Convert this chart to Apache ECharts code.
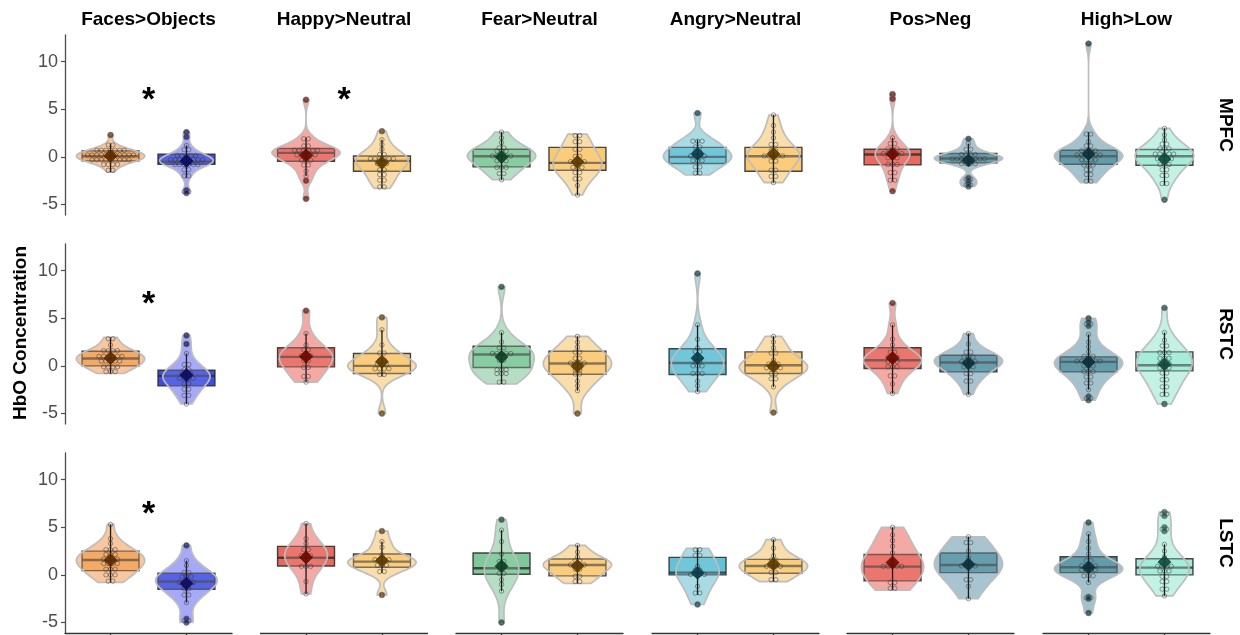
<!DOCTYPE html>
<html>
<head>
<meta charset="utf-8">
<script src="https://cdn.jsdelivr.net/npm/echarts@6/dist/echarts.min.js"></script>
<style>
  html, body { margin: 0; background: #fff; }
  #main { width: 1240px; height: 635px; }
</style>
</head>
<body>
<div id="main"></div>
<script>
  const contrasts = ['Faces>Objects', 'Happy>Neutral', 'Fear>Neutral', 'Angry>Neutral', 'Pos>Neg', 'High>Low'];
  const regions = ['MPFC', 'RSTC', 'LSTC'];
  // 每个对比两组: Faces, Objects, Happy, Neutral, Fear, Neutral, Angry, Neutral, Pos, Neg, High, Low
  const mpfcPoints = [
    [2.3, 1.4, 1.1, 0.9, 0.8, 0.7, 0.7, 0.6, 0.6, 0.5, 0.4, 0.4, 0.3, 0.3, 0.2, 0.2, 0.1, 0.1, 0.1, 0.0, 0.0, -0.1, -0.1, -0.2, -0.2, -0.3, -0.3, -0.4, -0.4, -0.5, -0.6, -0.7, -0.8, -1.0, -1.2, -1.6],
    [2.6, 2.1, 1.2, 0.9, 0.6, 0.3, 0.2, 0.2, 0.1, 0.0, -0.1, -0.2, -0.3, -0.3, -0.4, -0.5, -0.5, -0.5, -0.6, -0.6, -0.7, -0.8, -0.9, -1.0, -1.2, -1.5, -1.8, -2.2, -3.5, -3.8],
    [6.0, 2.0, 1.8, 1.3, 1.0, 0.9, 0.8, 0.7, 0.6, 0.5, 0.5, 0.4, 0.4, 0.3, 0.2, 0.0, -0.2, -0.4, -0.5, -0.7, -1.0, -1.5, -2.0, -2.5, -4.4],
    [2.7, 1.8, 1.3, 0.8, 0.3, 0.2, 0.0, -0.1, -0.2, -0.3, -0.4, -0.4, -0.5, -0.6, -0.9, -1.2, -1.5, -1.7, -2.0, -2.3, -2.6, -3.0, -3.3],
    [2.6, 2.0, 1.5, 1.0, 0.9, 0.8, 0.6, 0.4, 0.3, 0.2, 0.1, 0.0, -0.1, -0.2, -0.3, -0.6, -0.9, -1.1, -1.3, -1.6, -1.9, -2.4],
    [2.4, 2.1, 1.8, 1.4, 1.0, 0.6, 0.2, -0.1, -0.3, -0.5, -0.6, -0.7, -0.9, -1.1, -1.3, -1.5, -1.8, -2.1, -2.5, -3.0, -4.0],
    [4.6, 1.8, 1.8, 1.5, 1.2, 0.9, 0.6, 0.4, 0.3, 0.1, 0.0, -0.1, -0.2, -0.4, -0.6, -0.9, -1.2, -1.5, -1.9],
    [4.4, 3.3, 2.6, 2.0, 1.5, 1.1, 0.8, 0.5, 0.3, 0.2, 0.1, 0.0, -0.1, -0.3, -0.6, -1.2, -1.6, -1.9, -2.2, -2.7],
    [6.6, 6.1, 2.0, 1.6, 1.2, 1.0, 0.8, 0.7, 0.5, 0.4, 0.3, 0.3, 0.2, 0.1, 0.0, -0.3, -0.6, -0.8, -1.0, -1.5, -1.8, -2.3, -2.6, -3.6],
    [1.9, 1.4, 1.0, 0.6, 0.4, 0.3, 0.2, 0.1, 0.0, -0.1, -0.1, -0.2, -0.2, -0.2, -0.3, -0.4, -0.5, -0.6, -0.7, -0.9, -2.2, -2.5, -2.8, -3.1],
    [11.9, 2.6, 2.2, 1.6, 1.3, 1.0, 0.8, 0.7, 0.6, 0.5, 0.4, 0.3, 0.2, 0.1, 0.0, 0.0, -0.1, -0.2, -0.3, -0.5, -0.7, -0.9, -1.0, -1.2, -1.5, -1.7, -2.0, -2.4, -2.7],
    [3.0, 2.3, 1.8, 1.5, 1.2, 1.0, 0.8, 0.7, 0.5, 0.4, 0.3, 0.2, 0.1, 0.0, -0.1, -0.2, -0.4, -0.6, -0.8, -1.0, -1.2, -1.5, -1.8, -2.1, -2.6, -3.0, -4.5]
  ];
  const rstcPoints = [
    [3.0, 2.7, 2.2, 1.8, 1.5, 1.5, 1.4, 1.2, 1.1, 1.0, 0.9, 0.9, 0.8, 0.7, 0.6, 0.5, 0.4, 0.3, 0.1, 0.0, -0.1, -0.3, -0.4, -0.6, -0.8],
    [3.2, 2.3, 1.3, 0.3, 0.0, -0.3, -0.5, -0.7, -0.9, -1.0, -1.1, -1.2, -1.3, -1.5, -1.7, -2.0, -2.3, -2.6, -2.9, -3.3, -4.0],
    [5.8, 3.4, 2.2, 1.9, 1.5, 1.2, 1.0, 0.9, 0.7, 0.4, 0.0, -0.3, -1.0, -1.2, -1.7],
    [5.1, 3.8, 2.2, 1.5, 1.2, 0.7, 0.5, 0.3, 0.1, 0.0, -0.1, -0.2, -0.4, -0.5, -0.7, -1.1, -5.0],
    [8.3, 3.5, 2.5, 2.1, 1.7, 1.5, 1.4, 1.3, 1.2, 1.1, 0.8, 0.4, -0.3, -0.4, -0.5, -0.6, -0.7, -1.0, -1.5, -1.9],
    [3.1, 2.5, 2.0, 1.6, 1.3, 0.9, 0.7, 0.5, 0.3, 0.2, 0.1, -0.4, -0.5, -0.7, -1.0, -1.6, -2.1, -2.6, -5.0],
    [9.7, 4.3, 2.8, 1.9, 1.7, 1.3, 1.0, 0.8, 0.6, 0.3, 0.2, 0.0, -0.2, -0.6, -0.9, -1.0, -1.6, -2.1, -2.7],
    [3.1, 2.5, 1.9, 1.5, 1.2, 0.6, 0.3, 0.2, 0.1, 0.0, -0.1, -0.3, -0.4, -0.7, -0.9, -1.2, -1.5, -2.2, -4.9],
    [6.6, 4.3, 2.8, 2.2, 1.6, 1.3, 1.0, 0.9, 0.8, 0.6, 0.5, 0.3, 0.1, -0.1, -0.3, -0.9, -1.2, -1.9, -2.9],
    [3.4, 2.3, 1.6, 1.3, 1.1, 1.0, 0.8, 0.6, 0.5, 0.4, 0.3, 0.1, 0.0, -0.3, -0.6, -1.0, -1.4, -1.8, -3.0],
    [5.0, 4.6, 4.2, 3.3, 2.5, 2.0, 1.5, 1.2, 0.9, 0.8, 0.7, 0.6, 0.5, 0.4, 0.4, 0.3, 0.2, 0.0, -0.2, -0.4, -0.6, -0.8, -1.0, -1.3, -1.6, -2.0, -2.5, -3.2, -3.6],
    [6.1, 3.5, 2.7, 2.3, 1.9, 1.6, 1.4, 1.2, 1.0, 0.8, 0.6, 0.4, 0.3, 0.1, 0.0, -0.2, -0.4, -0.6, -0.9, -1.3, -1.6, -2.0, -2.4, -2.8, -3.2, -4.0]
  ];
  const lstcPoints = [
    [5.3, 3.8, 3.3, 2.8, 2.5, 2.5, 2.3, 2.1, 2.0, 1.8, 1.7, 1.6, 1.5, 1.4, 1.3, 1.2, 1.0, 0.8, 0.5, 0.4, 0.2, 0.0, -0.2, -0.5, -0.8],
    [3.1, 1.5, 1.0, 0.4, 0.1, 0.0, -0.2, -0.4, -0.6, -0.7, -0.8, -1.0, -1.3, -1.6, -1.9, -2.3, -2.9, -4.6, -5.0],
    [5.4, 3.8, 3.3, 2.8, 2.5, 2.2, 2.0, 1.8, 1.0, 0.9, 0.8, -0.7, -2.0],
    [4.6, 3.5, 2.9, 2.1, 1.8, 1.6, 1.5, 1.4, 1.2, 1.0, 0.8, 0.5, 0.2, -2.1],
    [5.8, 4.7, 3.5, 2.2, 1.6, 1.2, 0.9, 0.7, 0.3, 0.0, -0.5, -1.0, -1.7, -5.0],
    [3.1, 2.4, 1.9, 1.6, 1.4, 1.2, 1.1, 1.0, 0.9, 0.8, 0.4, 0.0, -0.3, -0.5, -0.9],
    [2.8, 2.5, 2.1, 2.0, 0.9, 0.6, 0.4, 0.2, 0.1, 0.0, -0.1, -1.2, -1.7, -2.1, -3.1],
    [3.7, 2.8, 2.0, 1.7, 1.4, 1.1, 1.0, 0.9, 0.7, 0.4, 0.1, -0.3, -0.7],
    [5.0, 4.2, 3.6, 3.0, 2.3, 1.3, 1.1, 1.0, 0.9, 0.8, 0.7, -0.7, -0.9, -1.2, -1.6],
    [4.0, 3.6, 3.2, 2.5, 1.8, 1.3, 1.1, 1.0, 0.9, 0.8, -0.3, -0.7, -1.2, -2.5],
    [5.5, 4.3, 3.5, 2.8, 2.2, 1.7, 1.3, 1.1, 1.0, 0.9, 0.8, 0.7, 0.5, 0.4, 0.3, 0.1, 0.0, -0.3, -0.8, -2.3, -2.5, -4.0],
    [6.6, 6.2, 5.0, 4.6, 3.2, 2.5, 1.9, 1.6, 1.3, 1.1, 1.0, 0.9, 0.7, 0.6, 0.4, 0.2, 0.0, -0.3, -0.5, -0.9, -1.3, -1.7, -2.2]
  ];
  // 箱线图 [下四分位, 中位数, 上四分位]
  const mpfcBox = [[-0.42, 0.07, 0.63], [-0.77, -0.5, 0.28], [-0.45, 0.42, 0.88], [-1.5, -0.42, 0.1], [-1.05, 0.07, 0.8], [-1.4, -0.63, 1.0],
    [-0.7, 0.0, 1.0], [-1.5, 0.07, 1.0], [-0.84, 0.25, 0.8], [-0.63, -0.17, 0.35], [-0.77, 0.07, 0.7], [-0.87, 0.07, 0.78]];
  const rstcBox = [[0.0, 0.77, 1.54], [-2.1, -1.05, -0.45], [-0.1, 0.95, 1.9], [-0.8, 0.0, 1.3], [-0.17, 1.2, 2.07], [-0.87, 0.25, 1.54],
    [-0.9, 0.3, 1.8], [-0.8, 0.07, 1.47], [-0.28, 0.6, 1.9], [-0.63, 0.35, 1.12], [-0.63, 0.42, 0.95], [-0.52, 0.07, 1.47]];
  const lstcBox = [[0.45, 1.56, 2.5], [-1.5, -0.7, 0.18], [0.94, 1.8, 3.0], [0.8, 1.39, 2.19], [0.07, 0.7, 2.3], [-0.1, 1.04, 1.67],
    [0.0, 0.24, 1.84], [0.17, 0.94, 1.63], [-0.63, 0.87, 2.15], [0.24, 1.04, 2.3], [0.24, 0.8, 1.9], [0.0, 0.76, 1.7]];
  // 显著性标记
  const starRegion = [0, 0, 1, 2];
  const starContrast = [0, 1, 0, 0];
  const starValue = [6.5, 6.5, 7.1, 7.0];
  const yTicks = [-5, 0, 5, 10];

  const boxColors = ['#F0993F', '#2438D8', '#E5574A', '#FCC25D', '#6CC08B', '#FCC25D',
    '#4DBAD4', '#FCC25D', '#E5574A', '#3D8798', '#3A8294', '#93E8D2'];
  const violinColors = ['#F9C7A0', '#A6A9F6', '#F5A9A4', '#FADDAB', '#B6DEC5', '#FADDAB',
    '#AADBE6', '#FADDAB', '#F5A9A4', '#A8C5D0', '#A2C3CD', '#C3F2E4'];
  const meanColors = ['#5C2A00', '#0B0B5E', '#6A0A00', '#5A3A00', '#0F3F24', '#5A3A00',
    '#0A3B49', '#5A3A00', '#6A0A00', '#0B2F3A', '#0B2F3A', '#0F4A3C'];

  const allPoints = [mpfcPoints, rstcPoints, lstcPoints];
  const allBox = [mpfcBox, rstcBox, lstcBox];

  const colLeft = [65, 260.5, 456, 652, 847, 1043];
  const rowTop = [35, 244, 453];
  const panelW = 167, panelH = 180;
  const yMin = -6.1, yMax = 12.8;
  const labelFont = 'Liberation Sans';

  function kde(vals) {
    const n = vals.length;
    const mean = vals.reduce((a, b) => a + b, 0) / n;
    const sd = Math.sqrt(vals.reduce((a, b) => a + (b - mean) * (b - mean), 0) / (n - 1));
    const s = vals.slice().sort((a, b) => a - b);
    const q = p => { const h = (n - 1) * p, lo = Math.floor(h); return s[lo] + (h - lo) * ((s[lo + 1] ?? s[lo]) - s[lo]); };
    const iqr = q(0.75) - q(0.25);
    // bw.nrd0 稍微放大一点, 让小提琴更平滑
    const bw = 1.3 * 0.9 * Math.min(sd, iqr > 0 ? iqr / 1.34 : sd) * Math.pow(n, -0.2);
    const lo = s[0], hi = s[n - 1], out = [];
    for (let i = 0; i <= 80; i++) {
      const y = lo + (hi - lo) * i / 80;
      let d = 0;
      vals.forEach(v => { const z = (y - v) / bw; d += Math.exp(-0.5 * z * z); });
      out.push([y, d / (n * bw * Math.sqrt(2 * Math.PI))]);
    }
    return out;
  }

  // dotdensity 分箱
  function dotBins(vals, bw) {
    const s = vals.slice().sort((a, b) => a - b), bins = [];
    let i = 0;
    while (i < s.length) {
      const start = s[i];
      let j = i;
      while (j + 1 < s.length && s[j + 1] < start + bw) j++;
      bins.push({ center: (start + s[j]) / 2, count: j - i + 1 });
      i = j + 1;
    }
    return bins;
  }

  const densities = allPoints.map(row => row.map(kde));

  function makeRenderer(r, c) {
    const dMax = Math.max(...densities[r][c * 2].map(d => d[1]), ...densities[r][c * 2 + 1].map(d => d[1]));
    return function (params, api) {
      const g = params.dataIndex, k = c * 2 + g, xv = g + 1;
      const pts = allPoints[r][k], box = allBox[r][k], dens = densities[r][k];
      const right = dens.map(d => api.coord([xv + 0.45 * d[1] / dMax, d[0]]));
      const left = dens.slice().reverse().map(d => api.coord([xv - 0.45 * d[1] / dMax, d[0]]));
      const shape = right.concat(left);
      const children = [];
      children.push({ type: 'polygon', shape: { points: shape }, style: { fill: violinColors[k], stroke: 'none' } });
      const b1 = api.coord([xv - 0.375, box[2]]), b2 = api.coord([xv + 0.375, box[0]]);
      children.push({ type: 'rect', shape: { x: b1[0], y: b1[1], width: b2[0] - b1[0], height: b2[1] - b1[1] },
        style: { fill: boxColors[k], opacity: 0.88, stroke: '#2b2b2b', lineWidth: 1.4 } });
      const m1 = api.coord([xv - 0.375, box[1]]), m2 = api.coord([xv + 0.375, box[1]]);
      children.push({ type: 'line', shape: { x1: m1[0], y1: m1[1], x2: m2[0], y2: m2[1] }, style: { stroke: '#2b2b2b', lineWidth: 2.4, opacity: 0.8 } });
      // 小提琴半透明覆盖 + 灰色轮廓
      children.push({ type: 'polygon', shape: { points: shape }, style: { fill: violinColors[k], opacity: 0.3, stroke: 'none' } });
      children.push({ type: 'polygon', shape: { points: shape }, style: { fill: 'none', stroke: '#BDBDBD', lineWidth: 1.7 } });
      // 须线
      const iqr = box[2] - box[0];
      const inner = pts.filter(v => v >= box[0] - 1.5 * iqr && v <= box[2] + 1.5 * iqr);
      const w1 = api.coord([xv, Math.max(...inner)]), w2 = api.coord([xv, Math.min(...inner)]);
      children.push({ type: 'line', shape: { x1: w1[0], y1: w1[1], x2: w2[0], y2: w2[1] }, style: { stroke: '#1a1a1a', lineWidth: 1.3 } });
      // 散点
      dotBins(pts, 0.42).forEach(bin => {
        const p = api.coord([xv, bin.center]);
        for (let i = 0; i < bin.count; i++) {
          const dx = (i - (bin.count - 1) / 2) * 4.6;
          children.push({ type: 'circle', shape: { cx: p[0] + dx, cy: p[1], r: 2.2 },
            style: { fill: 'none', stroke: '#333', lineWidth: 0.65, opacity: 0.75 } });
        }
      });
      pts.filter(v => v < box[0] - 1.5 * iqr || v > box[2] + 1.5 * iqr).forEach(v => {
        const p = api.coord([xv, v]);
        children.push({ type: 'circle', shape: { cx: p[0], cy: p[1], r: 2.9 },
          style: { fill: meanColors[k], stroke: '#777', lineWidth: 0.9, opacity: 0.65 } });
      });
      const mean = pts.reduce((a, b) => a + b, 0) / pts.length;
      const mp = api.coord([xv, mean]);
      children.push({ type: 'polygon', shape: { points: [[mp[0], mp[1] - 6.5], [mp[0] + 6.5, mp[1]], [mp[0], mp[1] + 6.5], [mp[0] - 6.5, mp[1]]] },
        style: { fill: meanColors[k], stroke: meanColors[k], lineWidth: 0.8, opacity: 0.9 } });
      return { type: 'group', children };
    };
  }

  const grid = [], xAxis = [], yAxis = [], series = [];
  regions.forEach((reg, r) => {
    contrasts.forEach((con, c) => {
      const gi = r * 6 + c;
      grid.push({ left: colLeft[c], top: rowTop[r], width: panelW, height: panelH, containLabel: false, outerBoundsMode: 'none' });
      xAxis.push({
        type: 'value', gridIndex: gi, min: 0.4, max: 2.6, show: r === 2,
        axisLine: { show: true, onZero: false, lineStyle: { color: '#333', width: 1.3 } },
        axisTick: { show: true, length: 5, customValues: [1, 2], lineStyle: { color: '#333', width: 1.2 } },
        axisLabel: { show: false }, splitLine: { show: false }
      });
      yAxis.push({
        type: 'value', gridIndex: gi, min: yMin, max: yMax, show: c === 0,
        axisLine: { show: true, lineStyle: { color: '#4D4D4D', width: 1.3 } },
        axisTick: { show: true, length: 4, customValues: yTicks, lineStyle: { color: '#4D4D4D', width: 1.2 } },
        axisLabel: { customValues: yTicks, color: '#4D4D4D', fontSize: 18, fontFamily: labelFont, margin: 7 },
        splitLine: { show: false }
      });
      series.push({
        type: 'custom', xAxisIndex: gi, yAxisIndex: gi, clip: false, silent: true,
        encode: { x: 0, y: 1 }, data: [[1, 0], [2, 0]], renderItem: makeRenderer(r, c)
      });
    });
  });

  starValue.forEach((v, i) => {
    const gi = starRegion[i] * 6 + starContrast[i];
    series.push({
      type: 'custom', xAxisIndex: gi, yAxisIndex: gi, clip: false, silent: true, z: 10,
      encode: { x: 0, y: 1 }, data: [[1.5, v]],
      renderItem: (params, api) => {
        const p = api.coord([api.value(0), api.value(1)]);
        return { type: 'text', x: p[0], y: p[1] + 6,
          style: { text: '*', fontSize: 34, fontWeight: 'bold', fontFamily: labelFont, fill: '#000', align: 'center', verticalAlign: 'middle' } };
      }
    });
  });

  const graphic = [];
  contrasts.forEach((con, c) => {
    graphic.push({ type: 'text', x: colLeft[c] + panelW / 2, y: 20,
      style: { text: con, fontSize: 19, fontWeight: 'bold', fontFamily: labelFont, fill: '#000', align: 'center', verticalAlign: 'middle' } });
  });
  regions.forEach((reg, r) => {
    graphic.push({ type: 'text', x: 1225, y: rowTop[r] + panelH / 2, rotation: -Math.PI / 2,
      style: { text: reg, fontSize: 19, fontWeight: 'bold', fontFamily: labelFont, fill: '#000', align: 'center', verticalAlign: 'middle' } });
  });
  graphic.push({ type: 'text', x: 21, y: 333, rotation: Math.PI / 2,
    style: { text: 'HbO Concentration', fontSize: 19, fontWeight: 'bold', fontFamily: labelFont, fill: '#000', align: 'center', verticalAlign: 'middle' } });

  const chart = echarts.init(document.getElementById('main'), null, { renderer: 'canvas' });
  chart.setOption({ animation: false, backgroundColor: '#fff', grid, xAxis, yAxis, series, graphic });
</script>
</body>
</html>
